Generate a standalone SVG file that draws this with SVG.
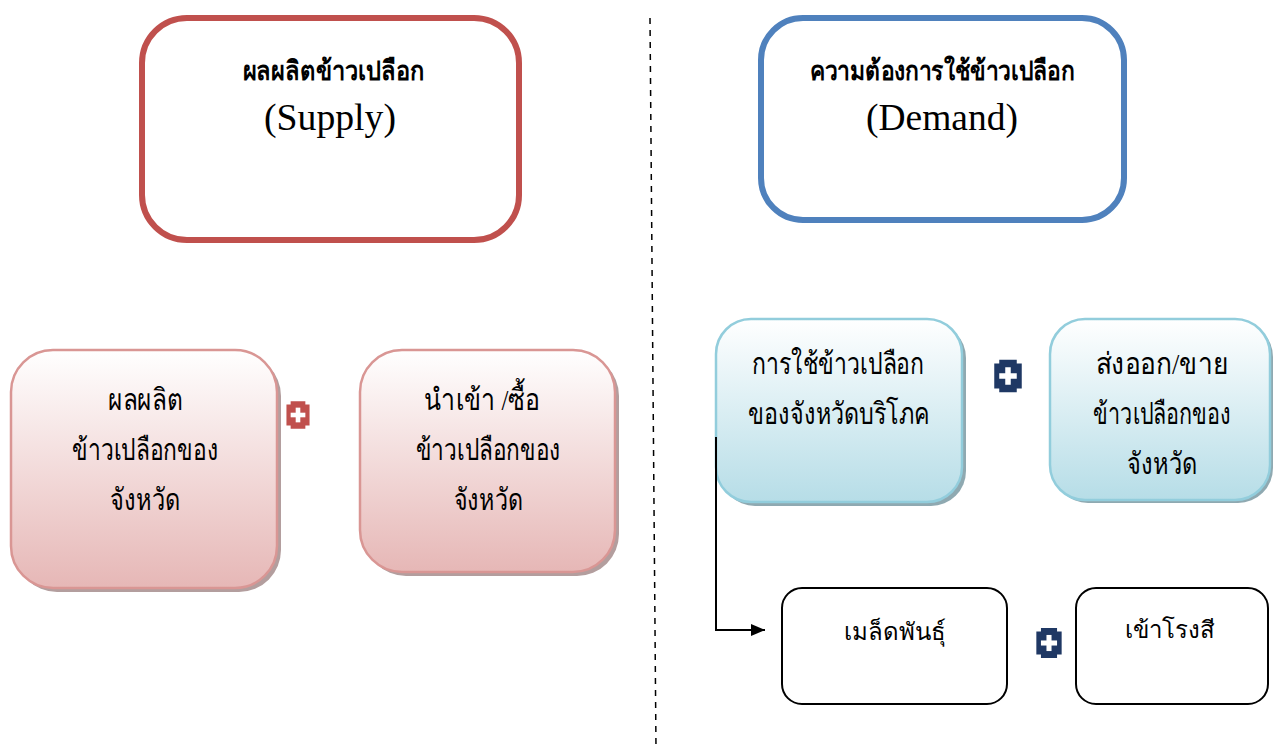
<svg xmlns="http://www.w3.org/2000/svg" width="1275" height="749" viewBox="0 0 1275 749">
<defs>
<linearGradient id="gPink" x1="0" y1="0" x2="0" y2="1">
<stop offset="0" stop-color="#ffffff"/><stop offset="1" stop-color="#e6b7b6"/>
</linearGradient>
<linearGradient id="gBlue" x1="0" y1="0" x2="0" y2="1">
<stop offset="0" stop-color="#ffffff"/><stop offset="1" stop-color="#b6dde7"/>
</linearGradient>
<marker id="arr" markerWidth="14" markerHeight="12" refX="14" refY="6" orient="auto" markerUnits="userSpaceOnUse">
<path d="M0,0 L14,6 L0,12 Z" fill="#000"/>
</marker>
<g id="plus">
<path d="M-7,-13 H7 V-10 H11 V10 H7 V13 H-7 V10 H-11 V-10 H-7 Z"/>
<rect x="-2.2" y="-7" width="4.4" height="14" fill="#fff"/>
<rect x="-7" y="-2.2" width="14" height="4.4" fill="#fff"/>
</g>
</defs>
<style>
.th{font-family:"Liberation Serif","Noto Sans",serif;font-size:30px;fill:#000;text-anchor:middle}
.hd{font-family:"Liberation Serif","Noto Sans",serif;font-size:27px;font-weight:bold;fill:#000;text-anchor:middle}
.en{font-family:"Liberation Serif",serif;font-size:38px;fill:#000;text-anchor:middle}
.sn{font-family:"Liberation Sans","Noto Sans",sans-serif;font-size:24px;fill:#000;text-anchor:middle}
.pink{fill:url(#gPink);stroke:#d99694;stroke-width:2.5}
.blue{fill:url(#gBlue);stroke:#92cddc;stroke-width:2.5}
.shP{fill:#b39e9e}
.shB{fill:#8fa9b1}
.wb{fill:#fff;stroke:#000;stroke-width:2}
</style>
<rect width="1275" height="749" fill="#fff"/>
<g id="divider">
<line x1="650" y1="18" x2="656" y2="749" stroke="#000" stroke-width="1.5" stroke-dasharray="6,6"/>
</g>
<g id="supply">
<rect x="142" y="18" width="377" height="222" rx="45" fill="#fff" stroke="#c0504d" stroke-width="6"/>
<text class="hd" x="333" y="80" textLength="181" lengthAdjust="spacingAndGlyphs">ผลผลิตข้าวเปลือก</text>
<text class="en" x="330" y="130" textLength="132" lengthAdjust="spacingAndGlyphs">(Supply)</text>
</g>
<g id="demand">
<rect x="761" y="18" width="363" height="202" rx="42" fill="#fff" stroke="#4f81bd" stroke-width="6"/>
<text class="hd" x="942" y="80" textLength="265" lengthAdjust="spacingAndGlyphs">ความต้องการใช้ข้าวเปลือก</text>
<text class="en" x="942" y="130" textLength="152" lengthAdjust="spacingAndGlyphs">(Demand)</text>
</g>
<g id="production">
<rect class="shP" x="15" y="354" width="266" height="238" rx="42"/>
<rect class="pink" x="11" y="350" width="266" height="238" rx="42"/>
<text class="th" x="145" y="410" textLength="74" lengthAdjust="spacingAndGlyphs">ผลผลิต</text>
<text class="th" x="145" y="460" textLength="146" lengthAdjust="spacingAndGlyphs">ข้าวเปลือกของ</text>
<text class="th" x="145" y="510" textLength="70" lengthAdjust="spacingAndGlyphs">จังหวัด</text>
</g>
<g id="plus1" fill="#c0504d"><use href="#plus" transform="translate(298,415) scale(1.05)"/></g>
<g id="import">
<rect class="shP" x="364" y="354" width="255" height="222" rx="42"/>
<rect class="pink" x="360" y="350" width="255" height="222" rx="42"/>
<text class="th" x="482" y="410" textLength="116" lengthAdjust="spacingAndGlyphs">นำเข้า /ซื้อ</text>
<text class="th" x="488" y="460" textLength="145" lengthAdjust="spacingAndGlyphs">ข้าวเปลือกของ</text>
<text class="th" x="488" y="510" textLength="69" lengthAdjust="spacingAndGlyphs">จังหวัด</text>
</g>
<g id="consume">
<rect class="shB" x="720" y="323" width="246" height="183" rx="35"/>
<rect class="blue" x="716" y="319" width="246" height="183" rx="35"/>
<text class="th" x="838" y="374" textLength="172" lengthAdjust="spacingAndGlyphs">การใช้ข้าวเปลือก</text>
<text class="th" x="839" y="424" textLength="182" lengthAdjust="spacingAndGlyphs">ของจังหวัดบริโภค</text>
</g>
<g id="plus2" fill="#1f3864"><use href="#plus" transform="translate(1008,376) scale(1.25)"/></g>
<g id="export">
<rect class="shB" x="1053" y="322" width="220" height="181" rx="35"/>
<rect class="blue" x="1050" y="319" width="220" height="181" rx="35"/>
<text class="th" x="1162" y="374" textLength="133" lengthAdjust="spacingAndGlyphs">ส่งออก/ขาย</text>
<text class="th" x="1162" y="424" textLength="138" lengthAdjust="spacingAndGlyphs">ข้าวเปลือกของ</text>
<text class="th" x="1162" y="474" textLength="70" lengthAdjust="spacingAndGlyphs">จังหวัด</text>
</g>
<g id="connectors">
<path d="M716,437 V630 H765" fill="none" stroke="#000" stroke-width="2" marker-end="url(#arr)"/>
</g>
<g id="seed">
<rect class="wb" x="782" y="588" width="225" height="116" rx="20"/>
<text class="sn" x="895" y="640">เมล็ดพันธุ์</text>
</g>
<g id="plus3" fill="#1f3864"><use href="#plus" transform="translate(1049,643) scale(1.15)"/></g>
<g id="mill">
<rect class="wb" x="1076" y="588" width="192" height="116" rx="20"/>
<text class="sn" x="1170" y="638">เข้าโรงสี</text>
</g>
</svg>
